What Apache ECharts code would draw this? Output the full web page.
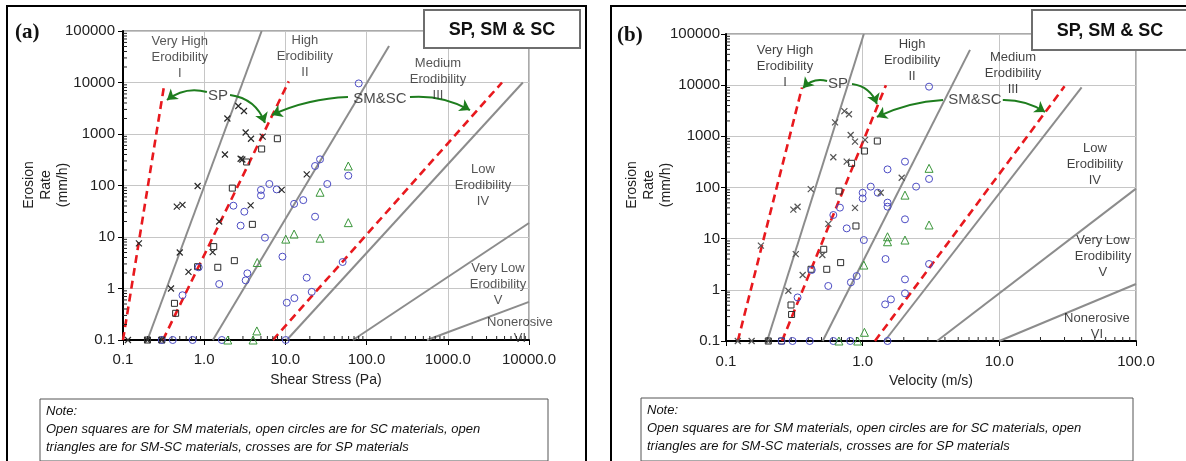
<!DOCTYPE html>
<html>
<head>
<meta charset="utf-8">
<title>Erosion rate vs shear stress / velocity - SP, SM & SC</title>
<script src="https://cdn.jsdelivr.net/npm/echarts@6.0.0/dist/echarts.min.js"></script>
<style>
  html, body { margin: 0; padding: 0; background: #fff; }
  #main { width: 1186px; height: 461px; }
</style>
</head>
<body>
<div id="main"></div>
<script>
const FONT = '"Liberation Sans", Arial, sans-serif';

// ---- (a) erosion rate (mm/h) vs shear stress (Pa) ----
const spShear = [[0.157, 7.5], [0.46, 39], [0.54, 42], [0.83, 98], [0.5, 5.0], [0.64, 2.1], [0.39, 1.0],
  [1.53, 20], [1.27, 5.1], [1.8, 400], [1.93, 2000], [2.63, 3500], [3.09, 2800], [3.24, 1070], [3.77, 810],
  [2.81, 330], [2.95, 320], [3.73, 41], [5.25, 890], [9.0, 82], [18.3, 165], [0.115, 0.1], [0.2, 0.1], [0.3, 0.1]];
const smShear = [[7.96, 810], [5.1, 512], [3.33, 286], [2.22, 89], [3.92, 17.6], [1.31, 6.5], [1.47, 2.58],
  [2.35, 3.47], [0.43, 0.515], [0.445, 0.33], [0.83, 2.65], [0.2, 0.1], [0.3, 0.1]];
const scShear = [[2.29, 40.5], [3.12, 31], [2.81, 16.6], [5.0, 82], [5.0, 64], [6.34, 107], [7.8, 84], [5.6, 9.7],
  [9.2, 4.15], [3.4, 1.97], [3.24, 1.44], [1.53, 1.22], [0.855, 2.58], [0.54, 0.74], [10.4, 0.53], [12.9, 0.65],
  [12.8, 44], [16.6, 52], [23.2, 24.8], [23.2, 239], [26.7, 322], [32.8, 107], [59.5, 155], [18.3, 1.62],
  [21.1, 0.86], [50.7, 3.27], [80, 9600], [0.3, 0.1], [0.41, 0.1], [0.72, 0.1], [1.65, 0.1], [10.1, 0.1]];
const smscShear = [[59.5, 239], [26.7, 74], [59.5, 19], [26.7, 9.5], [12.8, 11.4], [10.1, 9.1], [4.5, 3.2],
  [4.45, 0.15], [1.95, 0.1], [4.0, 0.1]];

// ---- (b) erosion rate (mm/h) vs velocity (m/s) ----
const spVel = [[0.18, 7.3], [0.311, 37], [0.334, 42], [0.417, 93], [0.324, 5.0], [0.364, 1.95], [0.286, 0.96],
  [0.507, 4.8], [0.561, 19.4], [0.61, 390], [0.628, 1880], [0.735, 3100], [0.794, 2700], [0.817, 1060],
  [0.879, 790], [0.764, 320], [0.879, 40], [1.04, 850], [1.355, 79], [1.93, 155], [0.122, 0.1], [0.154, 0.1], [0.204, 0.1]];
const smVel = [[1.28, 810], [1.03, 516], [0.83, 297], [0.671, 85], [0.893, 17.7], [0.519, 6.2], [0.546, 2.52],
  [0.69, 3.4], [0.299, 0.506], [0.302, 0.33], [0.419, 2.52], [0.204, 0.1], [0.255, 0.1]];
const scVel = [[0.682, 40.4], [0.61, 29], [0.764, 15.9], [1.0, 79], [1.0, 61], [1.146, 104], [1.29, 79], [1.02, 9.4],
  [1.52, 226], [2.04, 320], [2.46, 104], [1.52, 50.6], [1.52, 42.2], [2.04, 23.9], [3.06, 147], [3.06, 9350],
  [1.47, 4.0], [3.06, 3.2], [2.04, 1.6], [2.04, 0.855], [1.46, 0.52], [1.61, 0.65], [0.904, 1.86], [0.82, 1.4],
  [0.56, 1.19], [0.424, 2.44], [0.334, 0.71], [0.255, 0.1], [0.307, 0.1], [0.41, 0.1], [0.61, 0.1], [0.81, 0.1], [1.52, 0.1]];
const smscVel = [[3.06, 237], [2.04, 71], [3.06, 18.5], [2.04, 9.4], [1.52, 10.9], [1.52, 8.7], [1.02, 3.05],
  [1.03, 0.148], [0.67, 0.1], [0.92, 0.1]];

// erodibility category boundaries (grey) and SP / SM&SC envelopes (red dashed)
const zoneLinesShear = [[[0.2, 0.1], [5.1, 100000]], [[1.28, 0.1], [189, 51000]], [[10.4, 0.1], [8400, 10000]],
  [[68, 0.1], [10000, 18.7]], [[555, 0.1], [10000, 0.55]]];
const envLinesShear = [[[0.1, 0.1], [0.32, 8500]], [[0.31, 0.1], [11, 10500]], [[7.0, 0.1], [4650, 10000]]];
const zoneLinesVel = [[[0.2, 0.1], [1.02, 100000]], [[0.51, 0.1], [6.1, 49000]], [[1.45, 0.1], [40, 9100]],
  [[3.5, 0.1], [100, 95]], [[10, 0.1], [100, 1.3]]];
const envLinesVel = [[[0.122, 0.1], [0.36, 9000]], [[0.257, 0.1], [1.48, 10000]], [[1.23, 0.1], [30, 9500]]];

// labels
const zoneNames = ['Very High\nErodibility\nI', 'High\nErodibility\nII', 'Medium\nErodibility\nIII',
  'Low\nErodibility\nIV', 'Very Low\nErodibility\nV', 'Nonerosive\nVI'];
const zoneLabelShear = [[0.5, 31300], [17.4, 32700], [757, 11700], [2710, 102], [4150, 1.22], [7740, 0.156]];
const zoneLabelVel = [[0.27, 23700], [2.3, 31000], [12.6, 17300], [50, 288], [57.3, 4.58], [51.8, 0.196]];
const groupNames = ['SP', 'SM&SC'];
const groupLabelShear = [[1.48, 5470], [146, 4790]];
const groupLabelVel = [[0.66, 10500], [6.64, 5130]];

// green arrows: [from, to, curveness]
const arrowsShear = [[[1.08, 6550], [0.348, 4570], -0.25], [[2.08, 5710], [5.6, 1640], 0.3],
  [[59, 5220], [6.84, 2340], -0.1], [[342, 5220], [1875, 2920], 0.15]];
const arrowsVel = [[[0.549, 12050], [0.366, 8790], -0.3], [[0.836, 10500], [1.27, 4290], 0.3],
  [[3.87, 5130], [1.27, 2390], -0.1], [[10.6, 5130], [21.6, 2990], 0.15]];

const noteText = 'Note:\nOpen squares are for SM materials, open circles are for SC materials, open\n' +
  'triangles are for SM-SC materials, crosses are for SP materials';

// minor log ticks 2..9 in each decade
const minorSteps = [2, 3, 4, 5, 6, 7, 8, 9];
function minorValues(lo, hi) {
  const out = [];
  for (let e = lo; e < hi; e++) minorSteps.forEach(s => out.push(+(s * Math.pow(10, e)).toPrecision(6)));
  return out;
}

const chart = echarts.init(document.getElementById('main'));

function xAxisOf(idx, max, name, gap, margin) {
  return {
    type: 'log', gridIndex: idx, min: 0.1, max: max, logBase: 10,
    name: name, nameLocation: 'middle', nameGap: gap,
    nameTextStyle: { fontFamily: FONT, fontSize: 14, color: '#222' },
    axisLine: { show: true, onZero: false, lineStyle: { color: '#000', width: 2 } },
    axisTick: { show: true, length: 5, lineStyle: { color: '#000' } },
    axisLabel: { fontFamily: FONT, fontSize: 15, color: '#222', margin: margin,
      showMinLabel: true, showMaxLabel: true, formatter: v => Number(v).toFixed(1) },
    splitLine: { show: true, lineStyle: { color: '#c6c6c6', width: 1 } }
  };
}
function yAxisOf(idx, margin) {
  return {
    type: 'log', gridIndex: idx, min: 0.1, max: 100000, logBase: 10,
    axisLine: { show: true, onZero: false, lineStyle: { color: '#000', width: 2 } },
    axisTick: { show: true, length: 5, lineStyle: { color: '#000' } },
    axisLabel: { fontFamily: FONT, fontSize: 15, color: '#222', margin: margin,
      showMinLabel: true, showMaxLabel: true,
      formatter: v => (v < 1 ? Number(v).toFixed(1) : String(Math.round(v))) },
    splitLine: { show: true, lineStyle: { color: '#c6c6c6', width: 1 } }
  };
}

const crossPath = 'path://M0,0L8,8M8,0L0,8';

function panelSeries(idx, d) {
  const ax = { xAxisIndex: idx, yAxisIndex: idx };
  const list = [];
  d.zones.forEach(seg => list.push(Object.assign({
    type: 'line', data: seg, symbol: 'none', silent: true, z: 2,
    lineStyle: { color: '#8c8c8c', width: 2 }
  }, ax)));
  d.env.forEach(seg => list.push(Object.assign({
    type: 'line', data: seg, symbol: 'none', silent: true, z: 3,
    lineStyle: { color: '#e8191e', width: 2.6, type: [8, 5] }
  }, ax)));
  // minor ticks along both axes
  list.push(Object.assign({
    type: 'custom', silent: true, clip: false, z: 4,
    data: minorValues(-1, 5).map(v => [0.1, v]),
    renderItem: (p, api) => {
      const pt = api.coord([api.value(0), api.value(1)]);
      return { type: 'line', shape: { x1: pt[0], y1: pt[1], x2: pt[0] + 4, y2: pt[1] }, style: { stroke: '#222', lineWidth: 1 } };
    }
  }, ax));
  list.push(Object.assign({
    type: 'custom', silent: true, clip: false, z: 4,
    data: minorValues(-1, d.xDecades).map(v => [v, 0.1]),
    renderItem: (p, api) => {
      const pt = api.coord([api.value(0), api.value(1)]);
      return { type: 'line', shape: { x1: pt[0], y1: pt[1], x2: pt[0], y2: pt[1] - 4 }, style: { stroke: '#222', lineWidth: 1 } };
    }
  }, ax));
  const mk = (data, symbol, size, color, width) => Object.assign({
    type: 'scatter', data: data, symbol: symbol, symbolSize: size, clip: false, z: 5,
    itemStyle: { color: 'rgba(0,0,0,0)', borderColor: color, borderWidth: width, opacity: 1 }
  }, ax);
  list.push(mk(d.sm, 'rect', 6, '#2a2a2a', 1));
  list.push(mk(d.sc, 'circle', 7, '#4c4cc4', 1));
  list.push(mk(d.smsc, 'triangle', 8, '#3a963a', 1));
  list.push(mk(d.sp, crossPath, 6, d.crossColor, 1.2));
  // green arrows
  list.push(Object.assign({
    type: 'lines', coordinateSystem: 'cartesian2d', silent: true, z: 6,
    symbol: ['none', 'arrow'], symbolSize: 10,
    lineStyle: { color: '#1e7d1e', width: 2, opacity: 1 },
    data: d.arrows.map(a => ({ coords: [a[0], a[1]], lineStyle: { curveness: a[2] } }))
  }, ax));
  // zone and group labels
  const textSeries = (names, pos, size, color, lh) => Object.assign({
    type: 'scatter', silent: true, clip: false, z: 7, symbolSize: 1,
    itemStyle: { color: 'rgba(0,0,0,0)' },
    label: { show: true, position: 'inside', formatter: p => p.name, fontFamily: FONT,
      fontSize: size, color: color, lineHeight: lh, align: 'center', verticalAlign: 'middle' },
    data: names.map((n, i) => ({ name: n, value: pos[i] }))
  }, ax);
  list.push(textSeries(zoneNames, d.zoneLabels, 13, d.textColor, 16));
  list.push(textSeries(groupNames, d.groupLabels, 15, '#1a1a1a', 18));
  return list;
}

const series = [].concat(
  panelSeries(0, { zones: zoneLinesShear, env: envLinesShear, xDecades: 4, sp: spShear, sm: smShear, sc: scShear,
    smsc: smscShear, arrows: arrowsShear, zoneLabels: zoneLabelShear, groupLabels: groupLabelShear,
    crossColor: '#2a2a2a', textColor: '#2a2a2a' }),
  panelSeries(1, { zones: zoneLinesVel, env: envLinesVel, xDecades: 2, sp: spVel, sm: smVel, sc: scVel,
    smsc: smscVel, arrows: arrowsVel, zoneLabels: zoneLabelVel, groupLabels: groupLabelVel,
    crossColor: '#555', textColor: '#111' })
);

const boxText = (x, y, text, extra) => ({
  type: 'text', x: x, y: y, z: 100,
  style: Object.assign({ text: text, fontFamily: FONT, fill: '#111' }, extra)
});

const graphic = [
  // panel frames
  { type: 'rect', z: 90, shape: { x: 7, y: 6, width: 579, height: 470 }, style: { fill: 'none', stroke: '#000', lineWidth: 2 } },
  { type: 'rect', z: 90, shape: { x: 611, y: 6, width: 590, height: 470 }, style: { fill: 'none', stroke: '#000', lineWidth: 2 } },
  // panel letters
  boxText(15, 33, '(a)', { fontFamily: '"Liberation Serif", "Times New Roman", serif', fontSize: 21, fontWeight: 'bold', verticalAlign: 'middle' }),
  boxText(617, 36, '(b)', { fontFamily: '"Liberation Serif", "Times New Roman", serif', fontSize: 21, fontWeight: 'bold', verticalAlign: 'middle' }),
  // material boxes
  { type: 'rect', z: 95, shape: { x: 424, y: 10, width: 156, height: 38 }, style: { fill: '#fff', stroke: '#6e6e6e', lineWidth: 2 } },
  boxText(502, 30, 'SP, SM & SC', { fontSize: 18, fontWeight: 'bold', align: 'center', verticalAlign: 'middle' }),
  { type: 'rect', z: 95, shape: { x: 1032, y: 10, width: 170, height: 40 }, style: { fill: '#fff', stroke: '#6e6e6e', lineWidth: 2 } },
  boxText(1110, 31, 'SP, SM & SC', { fontSize: 18, fontWeight: 'bold', align: 'center', verticalAlign: 'middle' }),
  // y axis titles
  boxText(46, 185, 'Erosion\nRate\n(mm/h)', { fontSize: 14, fill: '#222', align: 'center', verticalAlign: 'middle', lineHeight: 17 }),
  boxText(649, 185, 'Erosion\nRate\n(mm/h)', { fontSize: 14, fill: '#222', align: 'center', verticalAlign: 'middle', lineHeight: 17 }),
  // notes
  { type: 'rect', z: 95, shape: { x: 40, y: 399, width: 508, height: 62 }, style: { fill: '#fff', stroke: '#555', lineWidth: 1 } },
  boxText(46, 402, noteText, { fontSize: 13, fontStyle: 'italic', lineHeight: 18, verticalAlign: 'top' }),
  { type: 'rect', z: 95, shape: { x: 641, y: 398, width: 492, height: 63 }, style: { fill: '#fff', stroke: '#555', lineWidth: 1 } },
  boxText(647, 401, noteText, { fontSize: 13, fontStyle: 'italic', lineHeight: 18, verticalAlign: 'top' })
];
graphic[8].rotation = Math.PI / 2;
graphic[9].rotation = Math.PI / 2;

const option = {
  animation: false,
  backgroundColor: '#fff',
  grid: [
    { left: 123, top: 31, width: 406, height: 309, show: true, borderColor: '#555', borderWidth: 1, outerBoundsMode: 'none' },
    { left: 726, top: 34, width: 410, height: 307, show: true, borderColor: '#555', borderWidth: 1, outerBoundsMode: 'none' }
  ],
  xAxis: [xAxisOf(0, 10000, 'Shear Stress (Pa)', 33, 12), xAxisOf(1, 100, 'Velocity (m/s)', 30, 13)],
  yAxis: [yAxisOf(0, 8), yAxisOf(1, 6)],
  graphic: graphic,
  series: series
};

chart.setOption(option);
window.addEventListener('resize', () => chart.resize());
</script>
</body>
</html>
